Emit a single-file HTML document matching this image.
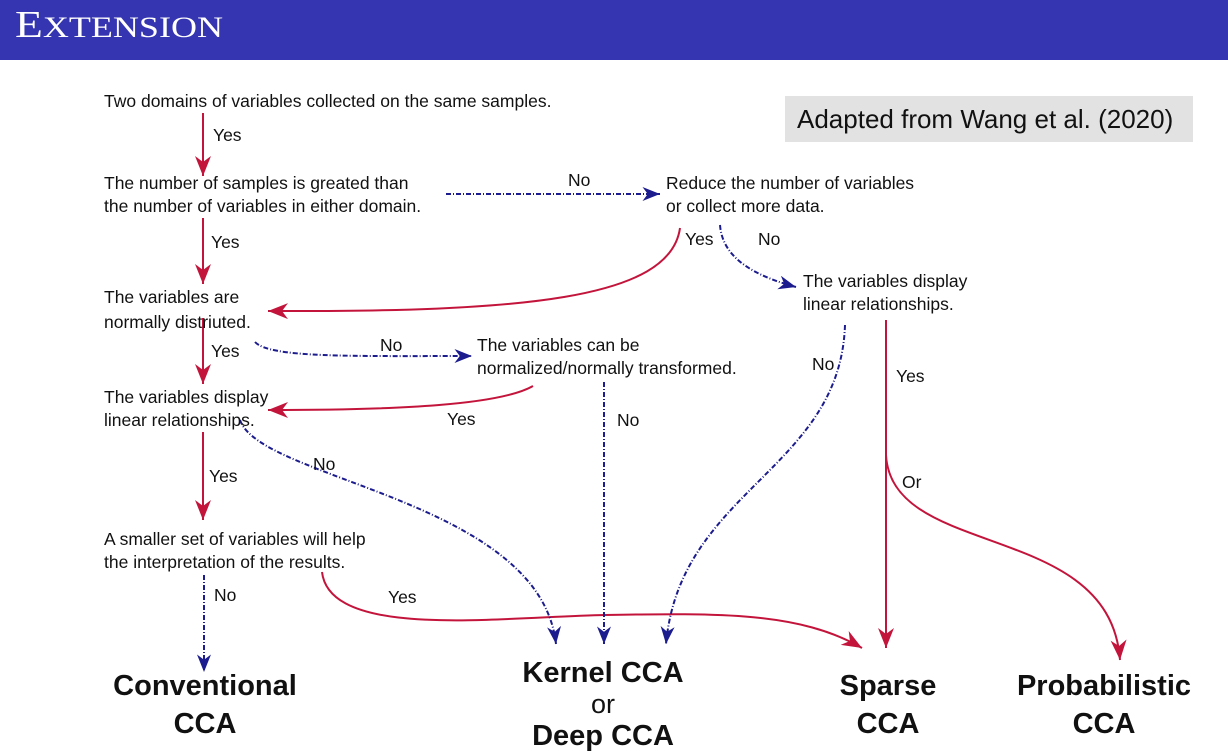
<!DOCTYPE html>
<html><head><style>
html,body{margin:0;padding:0;background:#fff;}
body{width:1228px;height:751px;overflow:hidden;position:relative;}
svg{position:absolute;left:0;top:0;}
</style></head><body>
<svg width="1228" height="751" viewBox="0 0 1228 751" xmlns="http://www.w3.org/2000/svg">
<defs>
<marker id="r2" viewBox="0 0 20 16" refX="20" refY="8" markerWidth="20" markerHeight="16" markerUnits="userSpaceOnUse" orient="auto">
<path d="M0,0 L6,8 L0,16 L20,8 Z" fill="#c3153c"/></marker>
<marker id="b2" viewBox="0 0 20 16" refX="20" refY="8" markerWidth="20" markerHeight="14" markerUnits="userSpaceOnUse" orient="auto">
<path d="M0,0 L6,8 L0,16 L20,8 Z" fill="#1c1c8e"/></marker>
</defs>
<rect x="0" y="0" width="1228" height="60" fill="#3535b2"/>
<text x="15" y="37" font-family="Liberation Serif, serif" font-size="38" fill="#fff" textLength="208" lengthAdjust="spacingAndGlyphs">E<tspan font-size="30">XTENSION</tspan></text>
<rect x="785" y="96" width="408" height="46" fill="#e2e2e2"/>
<text x="797" y="128" font-family="Liberation Sans, sans-serif" font-size="26" fill="#111">Adapted from Wang et al. (2020)</text>

<g fill="none" stroke-width="2" stroke="#c3153c">
<path d="M203,113 V176" marker-end="url(#r2)"/>
<path d="M203,218 V284" marker-end="url(#r2)"/>
<path d="M203,318 V384" marker-end="url(#r2)"/>
<path d="M203,432 V520" marker-end="url(#r2)"/>
<path d="M680,228 C670,300 520,312 268,311" marker-end="url(#r2)"/>
<path d="M533,386 C500,405 400,410 268,410" marker-end="url(#r2)"/>
<path d="M886,320 V648" marker-end="url(#r2)"/>
<path d="M886,455 C892,560 1110,520 1120,660" marker-end="url(#r2)"/>
<path d="M322,572 C330,640 500,617 605,615 C720,613 800,612 862,648" marker-end="url(#r2)"/>
</g>
<g fill="none" stroke-width="2" stroke="#1c1c8e" stroke-dasharray="5,2,1,2">
<path d="M446,194 H660" marker-end="url(#b2)"/>
<path d="M720,225 C722,250 740,272 796,287" marker-end="url(#b2)"/>
<path d="M255,342 C270,358 350,356 472,356" marker-end="url(#b2)"/>
<path d="M240,420 C260,480 540,500 556,644" marker-end="url(#b2)"/>
<path d="M604,382 V644" marker-end="url(#b2)"/>
<path d="M845,325 C840,470 680,490 666,644" marker-end="url(#b2)"/>
<path d="M204,575 V672" marker-end="url(#b2)"/>
</g>

<g font-family="Liberation Sans, sans-serif" font-size="17.5" fill="#111">
<text x="104" y="107">Two domains of variables collected on the same samples.</text>
<text x="213" y="141">Yes</text>
<text x="104" y="189">The number of samples is greated than</text>
<text x="104" y="212">the number of variables in either domain.</text>
<text x="568" y="186">No</text>
<text x="666" y="189">Reduce the number of variables</text>
<text x="666" y="212">or collect more data.</text>
<text x="685" y="245">Yes</text>
<text x="758" y="245">No</text>
<text x="803" y="287">The variables display</text>
<text x="803" y="310">linear relationships.</text>
<text x="211" y="248">Yes</text>
<text x="104" y="303">The variables are</text>
<text x="104" y="328">normally distriuted.</text>
<text x="211" y="357">Yes</text>
<text x="380" y="351">No</text>
<text x="477" y="351">The variables can be</text>
<text x="477" y="374">normalized/normally transformed.</text>
<text x="812" y="370">No</text>
<text x="896" y="382">Yes</text>
<text x="104" y="403">The variables display</text>
<text x="104" y="426">linear relationships.</text>
<text x="447" y="425">Yes</text>
<text x="617" y="426">No</text>
<text x="313" y="470">No</text>
<text x="209" y="482">Yes</text>
<text x="902" y="488">Or</text>
<text x="104" y="545">A smaller set of variables will help</text>
<text x="104" y="568">the interpretation of the results.</text>
<text x="214" y="601">No</text>
<text x="388" y="603">Yes</text>
</g>
<g font-family="Liberation Sans, sans-serif" font-size="29" font-weight="bold" fill="#111" text-anchor="middle">
<text x="205" y="695">Conventional</text>
<text x="205" y="733">CCA</text>
<text x="603" y="682">Kernel CCA</text>
<text x="603" y="713" font-weight="normal" font-size="27">or</text>
<text x="603" y="745">Deep CCA</text>
<text x="888" y="695">Sparse</text>
<text x="888" y="733">CCA</text>
<text x="1104" y="695">Probabilistic</text>
<text x="1104" y="733">CCA</text>
</g>
</svg>
</body></html>
